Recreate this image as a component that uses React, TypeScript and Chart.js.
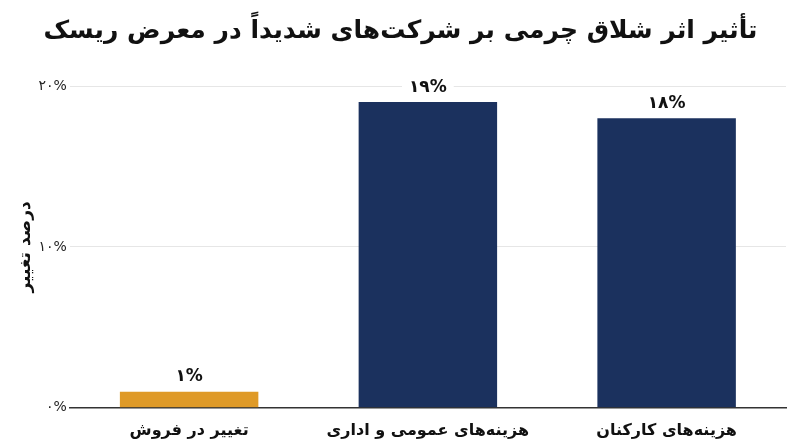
import React, { useEffect, useRef } from "react";
import { Chart, registerables } from "chart.js";

Chart.register(...registerables);

const TITLE = "تأثیر اثر شلاق چرمی بر شرکت‌های شدیداً در معرض ریسک";
const Y_TITLE = "درصد تغییر";
const categories = ["تغییر در فروش", "هزینه‌های عمومی و اداری", "هزینه‌های کارکنان"];
const values = [1, 19, 18];
const barColors = ["#DF9A27", "#1B315E", "#1B315E"];
const yTicks = [0, 10, 20];

const FONT = "'DejaVu Sans', sans-serif";
const faDigits = (n: number) =>
  String(n).replace(/\d/g, (d) => "۰۱۲۳۴۵۶۷۸۹"[Number(d)]);

const valueLabels = {
  id: "valueLabels",
  afterDatasetsDraw(chart: Chart) {
    const ctx = chart.ctx;
    const meta = chart.getDatasetMeta(0);
    ctx.save();
    ctx.font = `bold 17px ${FONT}`;
    ctx.textAlign = "center";
    ctx.textBaseline = "middle";
    meta.data.forEach((bar: any, i: number) => {
      const text = faDigits(values[i]) + "%";
      const w = ctx.measureText(text).width + 14;
      const y = bar.y - 15;
      ctx.fillStyle = "#ffffff";
      ctx.fillRect(bar.x - w / 2, y - 10, w, 20);
      ctx.fillStyle = "#111111";
      ctx.fillText(text, bar.x, y);
    });
    ctx.restore();
  },
};

const App: React.FC = () => {
  const canvasRef = useRef<HTMLCanvasElement>(null);
  const chartRef = useRef<Chart | null>(null);

  useEffect(() => {
    document.body.style.margin = "0";
    if (!canvasRef.current) return;
    if (chartRef.current) chartRef.current.destroy();

    chartRef.current = new Chart(canvasRef.current, {
      type: "bar",
      data: {
        labels: categories,
        datasets: [
          {
            data: values,
            backgroundColor: barColors,
            categoryPercentage: 1,
            barPercentage: 0.58,
          },
        ],
      },
      options: {
        animation: false,
        responsive: false,
        layout: { padding: { left: 15, right: 14, top: 0, bottom: 2 } },
        plugins: {
          legend: { display: false },
          tooltip: { enabled: false },
          title: {
            display: true,
            text: TITLE,
            color: "#111111",
            font: { family: FONT, size: 25, weight: "bold" },
            padding: { top: 16, bottom: 40 },
          },
        },
        scales: {
          x: {
            grid: { display: false },
            border: { display: true, color: "#333333", width: 1.5 },
            ticks: {
              color: "#111111",
              font: { family: FONT, size: 16, weight: "bold" },
              padding: 5,
            },
          },
          y: {
            min: 0,
            max: 20,
            afterBuildTicks: (axis: any) => {
              axis.ticks = yTicks.map((v) => ({ value: v }));
            },
            grid: {
              color: (c: any) => (c.tick && c.tick.value === 0 ? "rgba(0,0,0,0)" : "#e6e6e6"),
              drawTicks: false,
            },
            border: { display: false },
            ticks: {
              color: "#222222",
              font: { family: FONT, size: 14 },
              padding: 3,
              callback: (v: any) => faDigits(Number(v)) + "%",
            },
            title: {
              display: true,
              text: Y_TITLE,
              color: "#111111",
              font: { family: FONT, size: 17, weight: "bold" },
              padding: { top: 0, bottom: 0 },
            },
          },
        },
      },
      plugins: [valueLabels],
    });

    return () => {
      if (chartRef.current) {
        chartRef.current.destroy();
        chartRef.current = null;
      }
    };
  }, []);

  return (
    <div style={{ width: 800, height: 447, background: "#ffffff" }}>
      <canvas ref={canvasRef} width={800} height={447} />
    </div>
  );
};

export default App;
